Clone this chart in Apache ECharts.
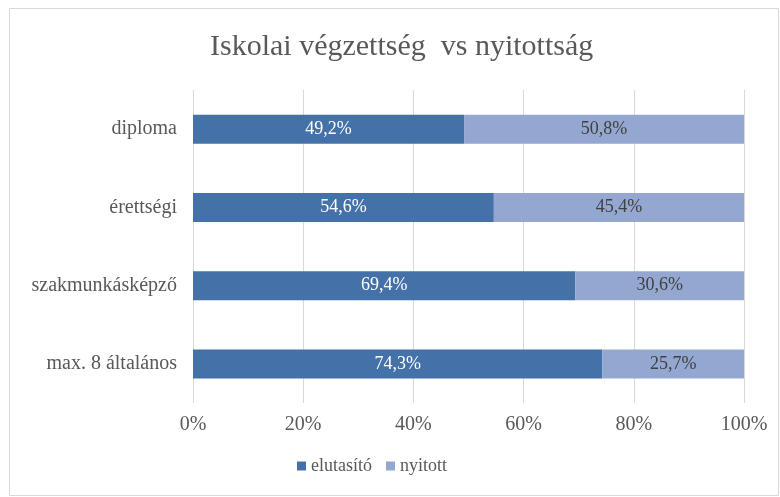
<!DOCTYPE html>
<html><head><meta charset="utf-8">
<script src="https://cdn.jsdelivr.net/npm/echarts@6/dist/echarts.min.js"></script>
<style>html,body{margin:0;padding:0;background:#fff}#c{width:780px;height:497px}</style>
</head><body><div id="c"></div>
<script>
const categories = ['max. 8 általános', 'szakmunkásképző', 'érettségi', 'diploma'];
const elutasito = [74.3, 69.4, 54.6, 49.2];
const nyitott = [25.7, 30.6, 45.4, 50.8];
const xTicks = [0, 20, 40, 60, 80, 100];
const seriesNames = ['elutasító', 'nyitott'];
const font = '"Liberation Serif", "DejaVu Serif", serif';
const chart = echarts.init(document.getElementById('c'));
const fmt = p => p.value.toFixed(1).replace('.', ',') + '%';
const legendText = {fontFamily: font, fontSize: 18, color: '#595959'};
chart.setOption({
  animation: false,
  textStyle: {fontFamily: font},
  graphic: [{type:'rect', shape:{x:9.5,y:8.5,width:769,height:487}, style:{fill:'none', stroke:'#d9d9d9', lineWidth:1}, silent:true}],
  title: {text: 'Iskolai végzettség  vs nyitottság', left: 205, top: 27,
    textStyle: {fontFamily: font, fontSize: 30, fontWeight: 'normal', color: '#595959'}},
  legend: {top: 452, left: 292, itemWidth: 9, itemHeight: 9, itemGap: 14, icon: 'rect',
    data: seriesNames.map(n => ({name: n, textStyle: legendText})),
    textStyle: legendText},
  grid: {left: 193, right: 36, top: 90, bottom: 94},
  xAxis: {type: 'value', min: 0, max: 100, interval: 20,
    axisLabel: {formatter: v => v + '%', fontFamily: font, fontSize: 20, color: '#595959', margin: 12},
    splitLine: {lineStyle: {color: '#d9d9d9'}}, axisLine: {show: false}, axisTick: {show: false}},
  yAxis: {type: 'category', data: categories,
    axisLabel: {fontFamily: font, fontSize: 20, color: '#595959', margin: 16},
    axisLine: {show: false}, axisTick: {show: false}},
  series: [
    {name: seriesNames[0], type: 'bar', stack: 'a', data: elutasito, barWidth: 29,
      itemStyle: {color: '#4471a7'},
      label: {show: true, position: 'inside', formatter: fmt, fontFamily: font, fontSize: 18, color: '#ffffff'}},
    {name: seriesNames[1], type: 'bar', stack: 'a', data: nyitott, barWidth: 29,
      itemStyle: {color: '#93a7d0'},
      label: {show: true, position: 'inside', formatter: fmt, fontFamily: font, fontSize: 18, color: '#404040'}}
  ]
});
</script></body></html>
